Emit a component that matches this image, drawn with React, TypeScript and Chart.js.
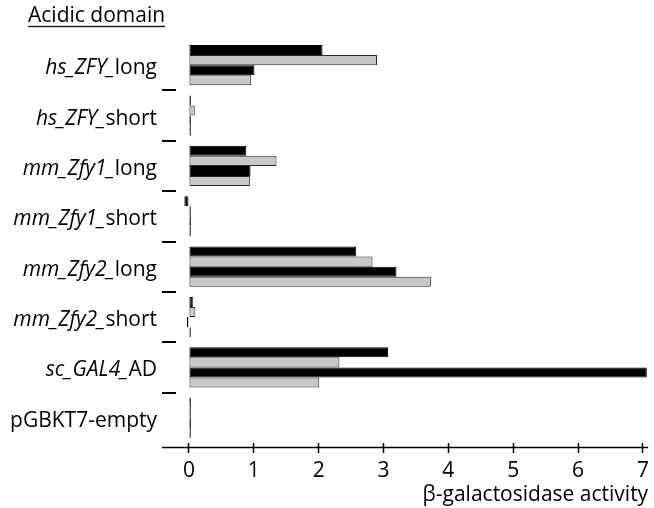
import React, { useEffect, useRef } from "react";
import { Chart, registerables } from "chart.js";

Chart.register(...registerables);

const categories = [
  "hs_ZFY_long",
  "hs_ZFY_short",
  "mm_Zfy1_long",
  "mm_Zfy1_short",
  "mm_Zfy2_long",
  "mm_Zfy2_short",
  "sc_GAL4_AD",
  "pGBKT7-empty",
];
const italicParts = ["hs_ZFY_", "hs_ZFY_", "mm_Zfy1_", "mm_Zfy1_", "mm_Zfy2_", "mm_Zfy2_", "sc_GAL4_", ""];

const seriesBlack1 = [2.06, 0.03, 0.885, -0.07, 2.58, 0.06, 3.07, 0.03];
const seriesGray1 = [2.9, 0.09, 1.35, 0.03, 2.83, 0.1, 2.32, 0.03];
const seriesBlack2 = [1.01, 0.03, 0.95, 0.03, 3.2, -0.03, 7.06, 0.03];
const seriesGray2 = [0.96, 0.03, 0.94, 0.03, 3.73, 0.03, 2.01, 0.03];

const xTicks = [0, 1, 2, 3, 4, 5, 6, 7];
const xTitle = "β-galactosidase activity";
const panelTitle = "Acidic domain";

const FONT = '"Open Sans", sans-serif';
const FS = 21;

const textPlugin = {
  id: "customText",
  afterDraw(chart: any) {
    const ctx = chart.ctx as CanvasRenderingContext2D;
    const yScale = chart.scales.y;
    const area = chart.chartArea;
    ctx.save();
    // x axis line (slightly below the plot area)
    ctx.strokeStyle = "#000";
    ctx.lineWidth = 1.5;
    ctx.beginPath();
    ctx.moveTo(area.left, area.bottom + 4.5);
    ctx.lineTo(area.right, area.bottom + 4.5);
    ctx.stroke();

    // category labels with italic gene names
    ctx.fillStyle = "#000";
    ctx.textBaseline = "middle";
    ctx.textAlign = "left";
    const right = area.left - 5;
    categories.forEach((name, i) => {
      const it = italicParts[i];
      const rest = name.slice(it.length);
      const py = yScale.getPixelForTick(i) + 3;
      ctx.font = `${FS}px ${FONT}`;
      const wRest = ctx.measureText(rest).width;
      ctx.font = `italic ${FS}px ${FONT}`;
      const wIt = ctx.measureText(it).width;
      ctx.fillText(it, right - wRest - wIt, py);
      ctx.font = `${FS}px ${FONT}`;
      ctx.fillText(rest, right - wRest, py);
    });

    // panel title, underlined
    ctx.font = `${FS}px ${FONT}`;
    ctx.textBaseline = "alphabetic";
    const tx = 28;
    const ty = 22;
    ctx.fillText(panelTitle, tx, ty);
    const w = ctx.measureText(panelTitle).width;
    ctx.lineWidth = 1.5;
    ctx.strokeStyle = "#222";
    ctx.beginPath();
    ctx.moveTo(tx, ty + 4.5);
    ctx.lineTo(tx + w, ty + 4.5);
    ctx.stroke();
    ctx.restore();
  },
};

export default function App() {
  const canvasRef = useRef<HTMLCanvasElement | null>(null);

  useEffect(() => {
    if (!canvasRef.current) return;
    const blackStyle = { backgroundColor: "#000", borderColor: "#000", borderWidth: 1 };
    const grayStyle = { backgroundColor: "#c8c8c8", borderColor: "#2a2a2a", borderWidth: 1 };
    const chart = new Chart(canvasRef.current, {
      type: "bar",
      data: {
        labels: categories,
        datasets: [
          { label: "black 1", data: seriesBlack1, ...blackStyle },
          { label: "gray 1", data: seriesGray1, ...grayStyle },
          { label: "black 2", data: seriesBlack2, ...blackStyle },
          { label: "gray 2", data: seriesGray2, ...grayStyle },
        ],
      },
      options: {
        indexAxis: "y",
        animation: false,
        responsive: true,
        maintainAspectRatio: false,
        layout: { padding: { left: 162, top: 40, right: 4, bottom: 0 } },
        datasets: { bar: { categoryPercentage: 0.8, barPercentage: 1.0, borderSkipped: false } },
        plugins: { legend: { display: false }, tooltip: { enabled: false }, title: { display: false } },
        scales: {
          x: {
            type: "linear",
            min: -0.415,
            max: 7.08,
            afterFit: (s: any) => {
              s.height = 65;
            },
            border: { display: false },
            grid: {
              drawOnChartArea: false,
              drawTicks: true,
              tickLength: 10,
              tickWidth: 1.5,
              tickColor: "#000",
            },
            ticks: {
              stepSize: 1,
              includeBounds: false,
              color: "#000",
              padding: 5,
              font: { family: FONT, size: FS },
              callback: (v: any) => (xTicks.includes(Number(v)) ? String(v) : ""),
            },
            title: {
              display: true,
              text: xTitle,
              align: "end",
              color: "#000",
              font: { family: FONT, size: FS },
              padding: { top: 0, bottom: 0 },
            },
          },
          y: {
            type: "category",
            offset: true,
            border: { display: false, dash: [14, 3000] },
            grid: {
              offset: true,
              drawTicks: false,
              drawOnChartArea: true,
              lineWidth: 2,
              color: (c: any) => (c.type !== "tick" || c.index === 0 ? "rgba(0,0,0,0)" : "#000"),
            },
            ticks: { display: false },
          },
        },
      },
      plugins: [textPlugin],
    } as any);
    return () => chart.destroy();
  }, []);

  return (
    <div style={{ position: "fixed", left: 0, top: 0, width: 654, height: 508, background: "#fff" }}>
      <canvas ref={canvasRef} />
    </div>
  );
}
